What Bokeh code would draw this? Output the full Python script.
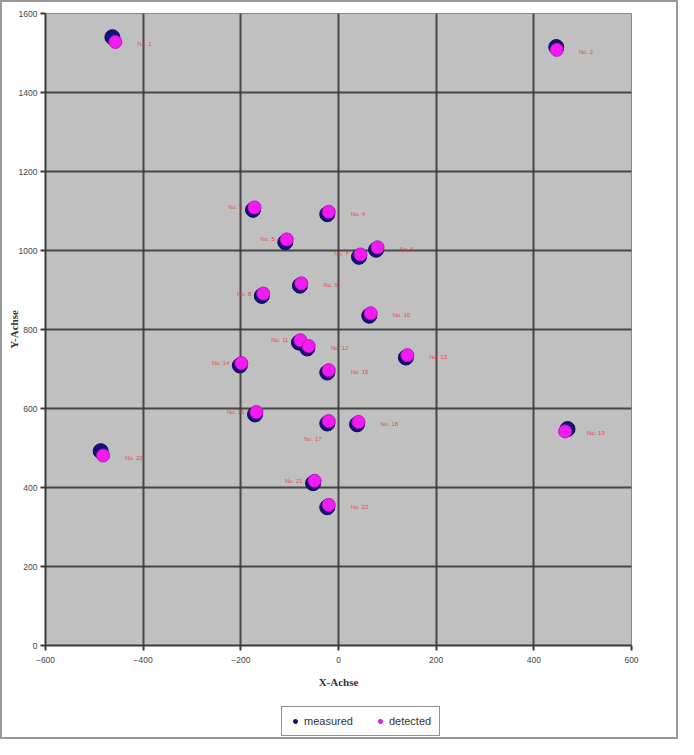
from bokeh.plotting import figure
from bokeh.layouts import column
from bokeh.models import ColumnDataSource, FixedTicker, Legend, LegendItem
from bokeh.embed import file_html
from bokeh.resources import INLINE

# ---- data ----
point_labels = ["No. 1", "No. 2", "No. 3", "No. 4", "No. 5", "No. 6", "No. 7", "No. 8",
                "No. 9", "No. 10", "No. 11", "No. 12", "No. 13", "No. 14", "No. 15", "No. 16",
                "No. 17", "No. 18", "No. 19", "No. 20", "No. 21", "No. 22"]
measured_x = [-463, 446, -175, -23, -109, 77, 42, -157, -79, 63, -81, -64, 138, -202, -23, -171,
              -23, 38, 469, -487, -52, -23]
measured_y = [1540, 1515, 1103, 1092, 1021, 1002, 984, 885, 911, 835, 767, 752, 729, 709, 691, 585,
              562, 560, 548, 492, 411, 350]
detected_x = [-457, 447, -172, -20, -106, 80, 45, -154, -76, 66, -78, -61, 141, -199, -20, -168,
              -20, 41, 464, -482, -49, -20]
detected_y = [1528, 1508, 1109, 1098, 1028, 1008, 990, 891, 917, 841, 773, 758, 735, 715, 697, 591,
              568, 566, 542, 481, 417, 356]
label_side = ["r", "r", "l", "r", "l", "r", "l", "l", "r", "r", "l", "r", "r", "l", "r", "l",
              "b", "r", "r", "r", "l", "r"]
x_ticks = [-600, -400, -200, 0, 200, 400, 600]
y_ticks = [0, 200, 400, 600, 800, 1000, 1200, 1400, 1600]
x_title = "X-Achse"
y_title = "Y-Achse"
series_names = ["measured", "detected"]

MEAS_FILL, MEAS_LINE = "#16107a", "#0c0850"
DET_FILL, DET_LINE = "#f21cf0", "#c010c8"

p = figure(frame_width=586, frame_height=632, x_range=(-600, 600), y_range=(0, 1600),
           output_backend="svg", toolbar_location=None,
           min_border_left=43, min_border_right=45, min_border_top=11, min_border_bottom=57)
p.background_fill_color = "#C0C0C0"
p.border_fill_color = "white"
p.outline_line_color = "#8a8a8a"
p.outline_line_width = 1

for ax in (p.xaxis, p.yaxis):
    ax.axis_line_color = "#3a3a3a"
    ax.axis_line_width = 2
    ax.major_tick_line_color = "#3a3a3a"
    ax.major_tick_line_width = 2
    ax.major_tick_out = 5
    ax.major_tick_in = 0
    ax.minor_tick_line_color = None
    ax.major_label_text_font = "Liberation Sans"
    ax.major_label_text_font_size = "8.5px"
    ax.major_label_text_color = "#444444"
    ax.axis_label_text_font = "Liberation Serif"
    ax.axis_label_text_font_style = "bold"
    ax.axis_label_text_font_size = "11px"
    ax.axis_label_text_color = "#333333"
p.xaxis.ticker = FixedTicker(ticks=x_ticks)
p.yaxis.ticker = FixedTicker(ticks=y_ticks)
p.xaxis.axis_label = x_title
p.yaxis.axis_label = y_title
p.xaxis.major_label_standoff = 6
p.xaxis.axis_label_standoff = 10
p.yaxis.major_label_standoff = 3
p.yaxis.axis_label_standoff = -4

for g in (p.xgrid, p.ygrid):
    g.grid_line_color = "#3a3a3a"
    g.grid_line_width = 2
    g.grid_line_alpha = 0.9
p.xgrid.ticker = FixedTicker(ticks=x_ticks)
p.ygrid.ticker = FixedTicker(ticks=y_ticks)

src = ColumnDataSource(dict(mx=measured_x, my=measured_y, dx=detected_x, dy=detected_y,
                            lab=point_labels, side=label_side))
p.scatter("mx", "my", source=src, size=15, marker="circle",
          fill_color=MEAS_FILL, line_color=MEAS_LINE, line_width=1)
p.scatter("dx", "dy", source=src, size=13, marker="circle",
          fill_color=DET_FILL, line_color=DET_LINE, line_width=1)

def sub(side):
    idx = [i for i, s in enumerate(label_side) if s == side]
    return ColumnDataSource(dict(x=[detected_x[i] for i in idx], y=[detected_y[i] for i in idx],
                                 t=[point_labels[i] for i in idx]))

common = dict(text_font_size="6px", text_color="#ee2a2a", text_alpha=0.85, text_baseline="middle")
p.text("x", "y", "t", source=sub("r"), x_offset=22, y_offset=2, text_align="left", **common)
p.text("x", "y", "t", source=sub("l"), x_offset=-12, y_offset=0, text_align="right", **common)
p.text("x", "y", "t", source=sub("b"), x_offset=-16, y_offset=18, text_align="center", **common)

# ---- legend strip below the chart (same data, ranges chosen so nothing shows in the strip) ----
leg = figure(width=674, height=35, x_range=(0, 1), y_range=(0, 1),
             x_axis_type=None, y_axis_type=None, output_backend="svg", toolbar_location=None,
             min_border_left=0, min_border_right=0, min_border_top=0, min_border_bottom=0)
leg.outline_line_color = None
leg.background_fill_color = "white"
leg.border_fill_color = "white"
leg.xgrid.visible = False
leg.ygrid.visible = False
lm = leg.scatter("mx", "my", source=src, size=8, marker="circle",
                 fill_color=MEAS_FILL, line_color=MEAS_LINE)
ld = leg.scatter("dx", "dy", source=src, size=8, marker="circle",
                 fill_color=DET_FILL, line_color=DET_LINE)
legend = Legend(items=[LegendItem(label=series_names[0], renderers=[lm]),
                       LegendItem(label=series_names[1], renderers=[ld])],
                orientation="horizontal", location=(236, 1))
legend.border_line_color = "#222222"
legend.border_line_width = 1.5
legend.background_fill_color = "white"
legend.background_fill_alpha = 1
legend.label_text_font = "Liberation Sans"
legend.label_text_font_size = "11px"
legend.label_text_color = "#333333"
legend.glyph_width = 10
legend.glyph_height = 10
legend.spacing = 22
legend.padding = 8
legend.margin = 0
legend.label_standoff = 4
legend.label_height = 12
leg.add_layout(legend, "center")

layout = column(p, leg, spacing=0, styles={"border": "2px solid #9a9a9a", "background": "white"})

open("out.html", "w").write(file_html(layout, INLINE))
